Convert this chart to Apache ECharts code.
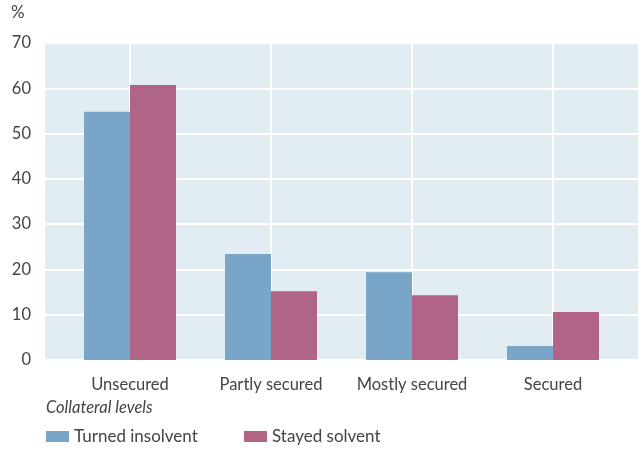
<!DOCTYPE html>
<html><head><meta charset="utf-8">
<script src="https://cdn.jsdelivr.net/npm/echarts@6/dist/echarts.min.js"></script>
<style>html,body{margin:0;padding:0;background:#fff}#c{width:641px;height:450px}</style>
</head><body><div id="c"></div>
<script>
var categories = ['Unsecured', 'Partly secured', 'Mostly secured', 'Secured'];
var turnedInsolvent = [54.8, 23.4, 19.4, 3.1];
var stayedSolvent = [60.7, 15.2, 14.3, 10.6];
var yTicks = [0, 10, 20, 30, 40, 50, 60, 70];
var seriesNames = ['Turned insolvent', 'Stayed solvent'];

var FONT = 'Lato';
var chart = echarts.init(document.getElementById('c'), null, {renderer: 'canvas'});
chart.setOption({
  animation: false,
  textStyle: {fontFamily: FONT},
  graphic: [
    {type: 'text', left: 11, top: 4, style: {text: '%', fontSize: 17, fill: '#444', fontFamily: FONT}},
    {type: 'text', left: 46, top: 399, style: {text: 'Collateral levels', fontSize: 16.5, fontStyle: 'italic', fill: '#444', fontFamily: FONT}}
  ],
  grid: [
    {left: 45, right: 3, top: 43, bottom: 90, show: true, backgroundColor: '#e1ecf3', borderWidth: 0},
    {left: 130, right: 88, top: 43, bottom: 90}
  ],
  xAxis: [
    {gridIndex: 0, type: 'value', min: 0, max: 1, show: false},
    {gridIndex: 1, type: 'category', data: categories, boundaryGap: false,
     axisLine: {show: false}, axisTick: {show: false, interval: 0},
     axisLabel: {interval: 0, hideOverlap: false, fontSize: 16.5, color: '#444', margin: 16, fontFamily: FONT},
     splitLine: {show: true, interval: 0, lineStyle: {color: '#ffffff', width: 2}}}
  ],
  yAxis: [
    {gridIndex: 0, type: 'value', min: 0, max: 70, interval: 10,
     axisLine: {show: false}, axisTick: {show: false},
     axisLabel: {fontSize: 16.5, color: '#444', margin: 14, fontFamily: FONT},
     splitLine: {show: true, lineStyle: {color: '#ffffff', width: 2}}},
    {gridIndex: 1, type: 'value', min: 0, max: 70, show: false, splitLine: {show: false}}
  ],
  legend: [
    {data: [seriesNames[0]], left: 46, top: 428, padding: 0, itemWidth: 23, itemHeight: 11, icon: 'rect',
     textStyle: {fontSize: 17, color: '#444', fontFamily: FONT}, selectedMode: false},
    {data: [seriesNames[1]], left: 244, top: 428, padding: 0, itemWidth: 23, itemHeight: 11, icon: 'rect',
     textStyle: {fontSize: 17, color: '#444', fontFamily: FONT}, selectedMode: false}
  ],
  series: [
    {name: seriesNames[0], type: 'bar', xAxisIndex: 1, yAxisIndex: 1, data: turnedInsolvent,
     barWidth: 46, barGap: '0%', clip: false, itemStyle: {color: '#78a5c8'}},
    {name: seriesNames[1], type: 'bar', xAxisIndex: 1, yAxisIndex: 1, data: stayedSolvent,
     barWidth: 46, barGap: '0%', clip: false, itemStyle: {color: '#b06586'}}
  ]
});
</script></body></html>
